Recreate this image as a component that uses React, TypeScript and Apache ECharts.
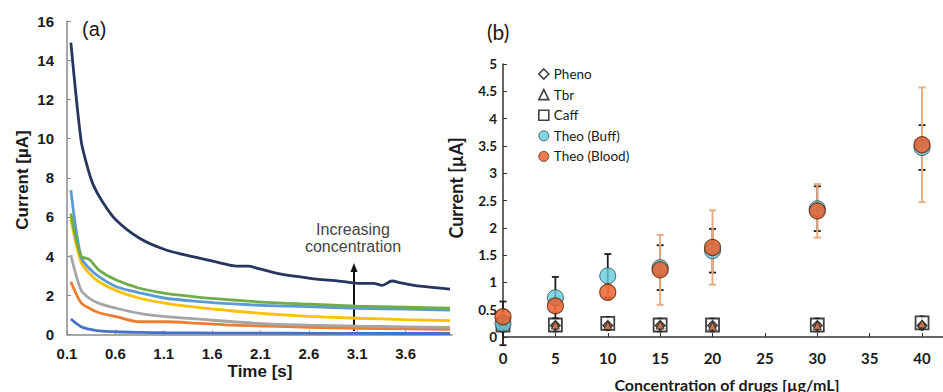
import React, { useEffect, useRef } from "react";
import * as echarts from "echarts";

// ---------- Panel (a): chronoamperometry curves ----------
const timeTicks = [0.1, 0.6, 1.1, 1.6, 2.1, 2.6, 3.1, 3.6];
const timeCommon = [0.14, 0.245, 0.33, 0.43, 0.61, 0.85, 1.12, 1.47, 1.82, 2.16, 2.6, 3.1, 3.6, 4.06];
const currentBlue = [0.79, 0.4, 0.27, 0.19, 0.14, 0.11, 0.09, 0.08, 0.07, 0.07, 0.06, 0.06, 0.05, 0.05];
const currentOrange = [2.69, 1.62, 1.34, 1.11, 0.91, 0.65, 0.65, 0.57, 0.48, 0.43, 0.37, 0.32, 0.29, 0.26];
const currentGray = [4.06, 2.27, 1.85, 1.59, 1.34, 1.08, 0.91, 0.78, 0.65, 0.54, 0.48, 0.43, 0.39, 0.36];
const currentYellow = [5.9, 3.7, 3.12, 2.69, 2.24, 1.85, 1.59, 1.37, 1.2, 1.06, 0.93, 0.83, 0.76, 0.71];
const currentLightBlue = [7.37, 3.95, 3.38, 2.95, 2.44, 2.13, 1.85, 1.68, 1.56, 1.48, 1.42, 1.34, 1.29, 1.25];
const currentGreen = [6.18, 4.0, 3.83, 3.29, 2.78, 2.36, 2.1, 1.9, 1.76, 1.64, 1.55, 1.45, 1.39, 1.34];
const navyTime = [0.14, 0.245, 0.3, 0.366, 0.47, 0.607, 0.85, 1.125, 1.4, 1.68, 1.85, 1.97, 2.07, 2.3, 2.615, 2.96, 3.13, 3.27, 3.36, 3.46, 3.55, 3.75, 4.06];
const currentNavy = [14.9, 9.92, 8.75, 7.7, 6.75, 5.84, 4.91, 4.31, 3.97, 3.66, 3.49, 3.49, 3.38, 3.09, 2.87, 2.7, 2.61, 2.61, 2.51, 2.73, 2.64, 2.47, 2.32];

// ---------- Panel (b): calibration ----------
const concTicks = [0, 5, 10, 15, 20, 25, 30, 35, 40];
const drugConc = [0, 5, 10, 15, 20, 30, 40];
const pheno = [0.21, 0.21, 0.21, 0.21, 0.21, 0.21, 0.21];
const tbr = [0.22, 0.22, 0.21, 0.22, 0.2, 0.21, 0.24];
const caff = [0.22, 0.22, 0.25, 0.22, 0.22, 0.22, 0.26];
const caffErr = [0.12, 0.12, 0.12, 0.12, 0.12, 0.12, 0.12];
const theoBuff = [0.25, 0.72, 1.12, 1.27, 1.58, 2.35, 3.47];
const theoBuffErr = [0.4, 0.38, 0.4, 0.41, 0.4, 0.41, 0.41];
const theoBlood = [0.37, 0.57, 0.82, 1.23, 1.64, 2.31, 3.52];
const theoBloodErr = [0.08, 0.1, 0.13, 0.64, 0.68, 0.49, 1.05];

const pairs = (xs: number[], ys: number[]) => xs.map((x, i) => [x, ys[i]]);
const errData = (ys: number[], es: number[]) => drugConc.map((x, i) => [x, ys[i] - es[i], ys[i] + es[i]]);

const errRender = (color: string, width: number, cap: number) => (_p: any, api: any) => {
  const x = api.value(0);
  const lo = api.value(1);
  const hi = api.value(2);
  const a = api.coord([x, hi]);
  const b = api.coord([x, lo]);
  const s = { stroke: color, lineWidth: width };
  return {
    type: "group",
    children: [
      { type: "line", shape: { x1: a[0], y1: a[1], x2: b[0], y2: b[1] }, style: s },
      { type: "line", shape: { x1: a[0] - cap, y1: a[1], x2: a[0] + cap, y2: a[1] }, style: s },
      { type: "line", shape: { x1: b[0] - cap, y1: b[1], x2: b[0] + cap, y2: b[1] }, style: s },
    ],
  };
};

const AF = "Liberation Sans";
const CF = "Lato";

export default function App() {
  const ref = useRef<HTMLDivElement>(null);
  useEffect(() => {
    const chart = echarts.init(ref.current!, null, { renderer: "svg" });
    const lineSeries = (name: string, xs: number[], ys: number[], color: string) => ({
      name,
      type: "line",
      xAxisIndex: 0,
      yAxisIndex: 0,
      data: pairs(xs, ys),
      showSymbol: false,
      smooth: 0.3,
      lineStyle: { color, width: 2.8 },
      itemStyle: { color },
    });
    const option: any = {
      animation: false,
      backgroundColor: "#ffffff",
      grid: [
        { left: 67, top: 21, width: 385, height: 313.5 },
        { left: 503, top: 64, width: 440, height: 273 },
      ],
      xAxis: [
        {
          type: "value",
          gridIndex: 0,
          min: 0.1,
          max: 4.08,
          axisLine: { lineStyle: { color: "#8a8a8a", width: 1.5 } },
          axisTick: { inside: true, length: 4, customValues: timeTicks, lineStyle: { color: "#8a8a8a" } },
          axisLabel: {
            customValues: timeTicks,
            formatter: (v: number) => v.toFixed(1),
            fontFamily: AF,
            fontWeight: "bold",
            fontSize: 15,
            color: "#1a1a1a",
            margin: 11,
          },
          splitLine: { show: false },
        },
        {
          type: "value",
          gridIndex: 1,
          min: 0,
          max: 42,
          axisLine: { lineStyle: { color: "#333", width: 1.5 } },
          axisTick: { inside: true, length: 4, customValues: concTicks, lineStyle: { color: "#333" } },
          axisLabel: {
            customValues: concTicks,
            fontFamily: CF,
            fontWeight: "bold",
            fontSize: 15,
            color: "#1a1a1a",
            margin: 13,
          },
          splitLine: { show: false },
        },
      ],
      yAxis: [
        {
          type: "value",
          gridIndex: 0,
          min: 0,
          max: 16,
          interval: 2,
          axisLine: { show: true, lineStyle: { color: "#8a8a8a", width: 1.5 } },
          axisTick: { show: true, inside: true, length: 4, lineStyle: { color: "#8a8a8a" } },
          axisLabel: { fontFamily: AF, fontWeight: "bold", fontSize: 15, color: "#1a1a1a", margin: 13 },
          splitLine: { show: false },
        },
        {
          type: "value",
          gridIndex: 1,
          min: 0,
          max: 5,
          interval: 0.5,
          axisLine: { show: true, lineStyle: { color: "#333", width: 1.5 } },
          axisTick: { show: true, inside: true, length: 4, lineStyle: { color: "#333" } },
          axisLabel: { fontFamily: CF, fontWeight: "bold", fontSize: 13.5, color: "#1a1a1a", margin: 6 },
          splitLine: { show: false },
        },
      ],
      legend: {
        left: 533,
        top: 59,
        orient: "vertical",
        itemWidth: 10,
        itemHeight: 10,
        itemGap: 0.6,
        textStyle: { fontFamily: CF, fontSize: 13.5, color: "#1a1a1a", lineHeight: 20 },
        data: [
          { name: "Pheno", icon: "diamond", itemStyle: { color: "#fff", borderColor: "#111", borderWidth: 1.6 } },
          { name: "Tbr", icon: "triangle", itemStyle: { color: "#fff", borderColor: "#111", borderWidth: 1.6 } },
          { name: "Caff", icon: "rect", itemStyle: { color: "#fff", borderColor: "#111", borderWidth: 1.6 } },
          { name: "Theo (Buff)", icon: "circle", itemStyle: { color: "#67c9dc", borderColor: "#2b4a52", borderWidth: 1 } },
          { name: "Theo (Blood)", icon: "circle", itemStyle: { color: "#ee5a24", borderColor: "#5a2a10", borderWidth: 1 } },
        ],
      },
      series: [
        lineSeries("c1", timeCommon, currentBlue, "#4472c4"),
        lineSeries("c2", timeCommon, currentOrange, "#ed7d31"),
        lineSeries("c3", timeCommon, currentGray, "#a5a5a5"),
        lineSeries("c4", timeCommon, currentYellow, "#ffc000"),
        lineSeries("c5", timeCommon, currentLightBlue, "#5b9bd5"),
        lineSeries("c6", timeCommon, currentGreen, "#70ad47"),
        lineSeries("c7", navyTime, currentNavy, "#26365f"),
        {
          name: "errBuff",
          type: "custom",
          xAxisIndex: 1,
          yAxisIndex: 1,
          data: errData(theoBuff, theoBuffErr),
          encode: { x: 0, y: [1, 2] },
          renderItem: errRender("#1e1e1e", 1.8, 3.5),
        },
        {
          name: "errBlood",
          type: "custom",
          xAxisIndex: 1,
          yAxisIndex: 1,
          data: errData(theoBlood, theoBloodErr),
          encode: { x: 0, y: [1, 2] },
          renderItem: errRender("#e6ad85", 2, 3.5),
        },
        {
          name: "errCaff",
          type: "custom",
          xAxisIndex: 1,
          yAxisIndex: 1,
          data: errData(caff, caffErr),
          encode: { x: 0, y: [1, 2] },
          renderItem: errRender("#1e1e1e", 1.5, 2.5),
        },
        {
          name: "Caff",
          type: "scatter",
          xAxisIndex: 1,
          yAxisIndex: 1,
          symbol: "rect",
          symbolSize: 13,
          data: pairs(drugConc, caff),
          itemStyle: { color: "#ffffff", borderColor: "#111", borderWidth: 1.8 },
        },
        {
          name: "Pheno",
          type: "scatter",
          xAxisIndex: 1,
          yAxisIndex: 1,
          symbol: "diamond",
          symbolSize: 10,
          data: pairs(drugConc, pheno),
          itemStyle: { color: "#5a3a30", borderColor: "#222", borderWidth: 1.2 },
        },
        {
          name: "Tbr",
          type: "scatter",
          xAxisIndex: 1,
          yAxisIndex: 1,
          symbol: "triangle",
          symbolSize: 8,
          data: pairs(drugConc, tbr),
          itemStyle: { color: "#e07a4a", borderColor: "#222", borderWidth: 1 },
        },
        {
          name: "Theo (Buff)",
          type: "scatter",
          xAxisIndex: 1,
          yAxisIndex: 1,
          symbol: "circle",
          symbolSize: 16,
          data: pairs(drugConc, theoBuff),
          itemStyle: { color: "#67c9dc", borderColor: "#2b4a52", borderWidth: 1 },
        },
        {
          name: "Theo (Blood)",
          type: "scatter",
          xAxisIndex: 1,
          yAxisIndex: 1,
          symbol: "circle",
          symbolSize: 16,
          data: pairs(drugConc, theoBlood),
          itemStyle: { color: "#ee5a24", borderColor: "#5a2a10", borderWidth: 1.2 },
        },
      ],
      graphic: [
        { type: "text", left: 82, top: 19, style: { text: "(a)", fontFamily: AF, fontSize: 20, fill: "#1a1a1a" } },
        { type: "text", left: 487, top: 21, style: { text: "(b)", fontFamily: CF, fontSize: 21, fill: "#1a1a1a" } },
        {
          type: "text",
          x: 22,
          y: 180,
          rotation: Math.PI / 2,
          style: { text: "Current [µA]", fontFamily: AF, fontWeight: "bold", fontSize: 17, fill: "#1a1a1a", align: "center", verticalAlign: "middle" },
        },
        {
          type: "text",
          x: 260,
          y: 371,
          style: { text: "Time [s]", fontFamily: AF, fontWeight: "bold", fontSize: 17, fill: "#1a1a1a", align: "center", verticalAlign: "middle" },
        },
        {
          type: "text",
          x: 456,
          y: 188,
          rotation: Math.PI / 2,
          style: { text: "Current [µA]", fontFamily: CF, fontWeight: "bold", fontSize: 18, fill: "#1a1a1a", align: "center", verticalAlign: "middle" },
        },
        {
          type: "text",
          x: 727,
          y: 384,
          style: { text: "Concentration of drugs [µg/mL]", fontFamily: CF, fontWeight: "bold", fontSize: 16, fill: "#1a1a1a", align: "center", verticalAlign: "middle" },
        },
        {
          type: "text",
          x: 353,
          y: 238,
          style: {
            text: "Increasing\nconcentration",
            fontFamily: AF,
            fontSize: 16,
            lineHeight: 17.5,
            fill: "#444",
            align: "center",
            verticalAlign: "middle",
          },
        },
        { type: "line", shape: { x1: 354, y1: 331, x2: 354, y2: 270 }, style: { stroke: "#111", lineWidth: 2 } },
        { type: "polygon", shape: { points: [[354, 263], [350.5, 272], [357.5, 272]] }, style: { fill: "#111" } },
      ],
    };
    chart.setOption(option);
    return () => chart.dispose();
  }, []);
  return (
    <div
      ref={ref}
      style={{ position: "absolute", left: 0, top: 0, width: 943, height: 392, background: "#fff" }}
    />
  );
}
